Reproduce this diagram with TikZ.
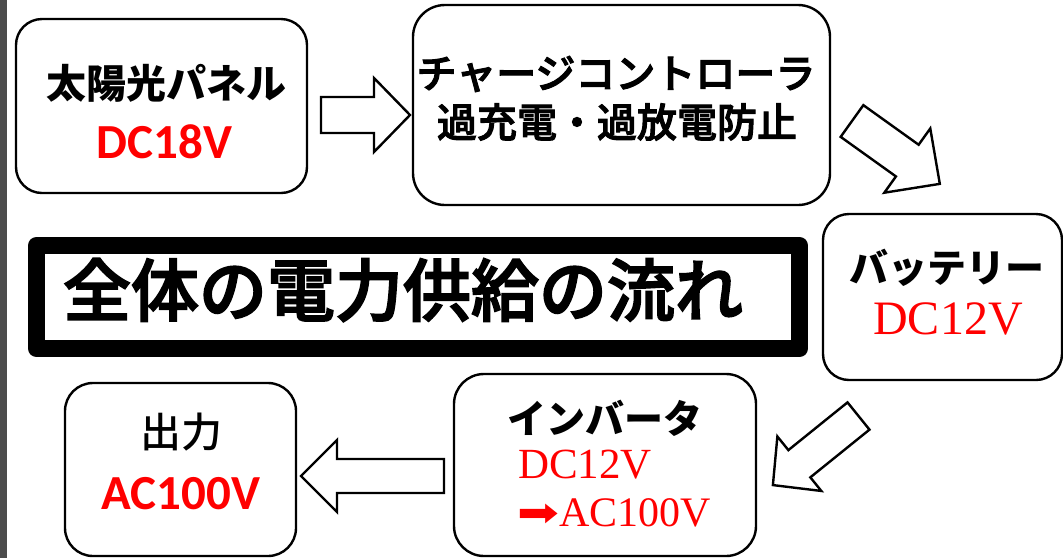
\documentclass[tikz,border=0pt]{standalone}
\usepackage{fontspec}
\newfontfamily\jp{Noto Sans CJK JP}
\newfontfamily\jpm{Noto Sans CJK JP Medium}
\newfontfamily\jpmb[FakeBold=2.5]{Noto Sans CJK JP Medium}
\newfontfamily\carl{Carlito}
\newfontfamily\tnr{Liberation Serif}
\newfontfamily\dv{DejaVu Sans}
\definecolor{pured}{RGB}{255,0,0}
\newcommand\fs[1]{\fontsize{#1pt}{#1pt}\selectfont}
% block arrow: x, y (back centre), angle, length, shaft half, head half, head length
\newcommand\blockarr[7]{%
  \draw[barrowstyle, shift={(#1,#2)}, rotate=#3]
    (0,-#5) -- ({#4-#7},-#5) -- ({#4-#7},-#6) -- (#4,0) -- ({#4-#7},#6) -- ({#4-#7},#5) -- (0,#5) -- cycle;}
\begin{document}
\begin{tikzpicture}[x=1pt,y=-1pt,
  box/.style={draw=black, line width=2.4pt, fill=white, inner sep=0pt},
  barrowstyle/.style={draw=black, line width=2.4pt, fill=white, line join=miter},
  txt/.style={inner sep=0pt, anchor=center},
  jpb/.style={txt, font=\jp\bfseries\fs{40}},
  redc/.style={txt, text=pured, font=\carl\bfseries\fs{48}},
  redt/.style={txt, text=pured, font=\tnr\fs{48}}]
\useasboundingbox (0,0) rectangle (1063,558);
\fill[white] (0,0) rectangle (1063,558);
\fill[black!70] (0,0) rectangle (7,558);

% boxes
\node[box, rounded corners=26pt, minimum width=291pt, minimum height=174pt] (solar) at (161.5,106) {};
\node[box, rounded corners=32pt, minimum width=417pt, minimum height=200pt] (ctrl) at (621.5,105) {};
\node[box, rounded corners=26pt, minimum width=239pt, minimum height=166pt] (batt) at (942.5,297) {};
\node[box, rounded corners=30pt, minimum width=302pt, minimum height=182pt] (inv) at (605,465) {};
\node[box, rounded corners=28pt, minimum width=231pt, minimum height=173pt] (out) at (180.5,469.5) {};

% title frame
\node[draw=black, line width=17pt, line join=round, inner sep=0pt,
      minimum width=763pt, minimum height=103pt] (titlebox) at (418,297) {};
\node[txt, font=\jpmb\fs{68}] (title) at (403,290) {全体の電力供給の流れ};

% texts
\node[jpb] (solarA) at (166,83) {太陽光パネル};
\node[redc, font=\carl\bfseries\fs{49}] (solarB) at (164.5,141.5) {DC18V};
\node[jpb, font=\jpmb\fs{40}] (ctrlA) at (616,74) {チャージコントローラ};
\node[jpb, font=\jpmb\fs{40}] (ctrlB) at (617,122) {過充電・過放電防止};
\node[jpb, font=\jp\bfseries\fs{39}] (battA) at (947,268) {バッテリー};
\node[redt] (battB) at (948,319) {DC12V};
\node[jpb, font=\jp\bfseries\fs{39}] (invA) at (605,418) {インバータ};
\node[redt, font=\tnr\fs{43}, anchor=west] (invB) at (518,465) {DC12V};
\node[redt, font=\tnr\fs{42}, anchor=west] (invC) at (517,513) {{\dv\fs{40}\scalebox{1.25}[1]{➡}}AC100V};
\node[txt, font=\jpm\fs{41}] (outA) at (181.5,432) {出力};
\node[redc, font=\carl\bfseries\fs{49}] (outB) at (181,493.5) {AC100V};

% block arrows
\blockarr{321}{115}{0}{89}{18}{37}{36}
\blockarr{852}{121}{-35.6}{108}{19.5}{39.5}{40}
\blockarr{858.5}{416}{-141.1}{110}{17.5}{35}{34}
\blockarr{444}{476}{180}{143}{17}{36}{36}
\end{tikzpicture}
\end{document}
